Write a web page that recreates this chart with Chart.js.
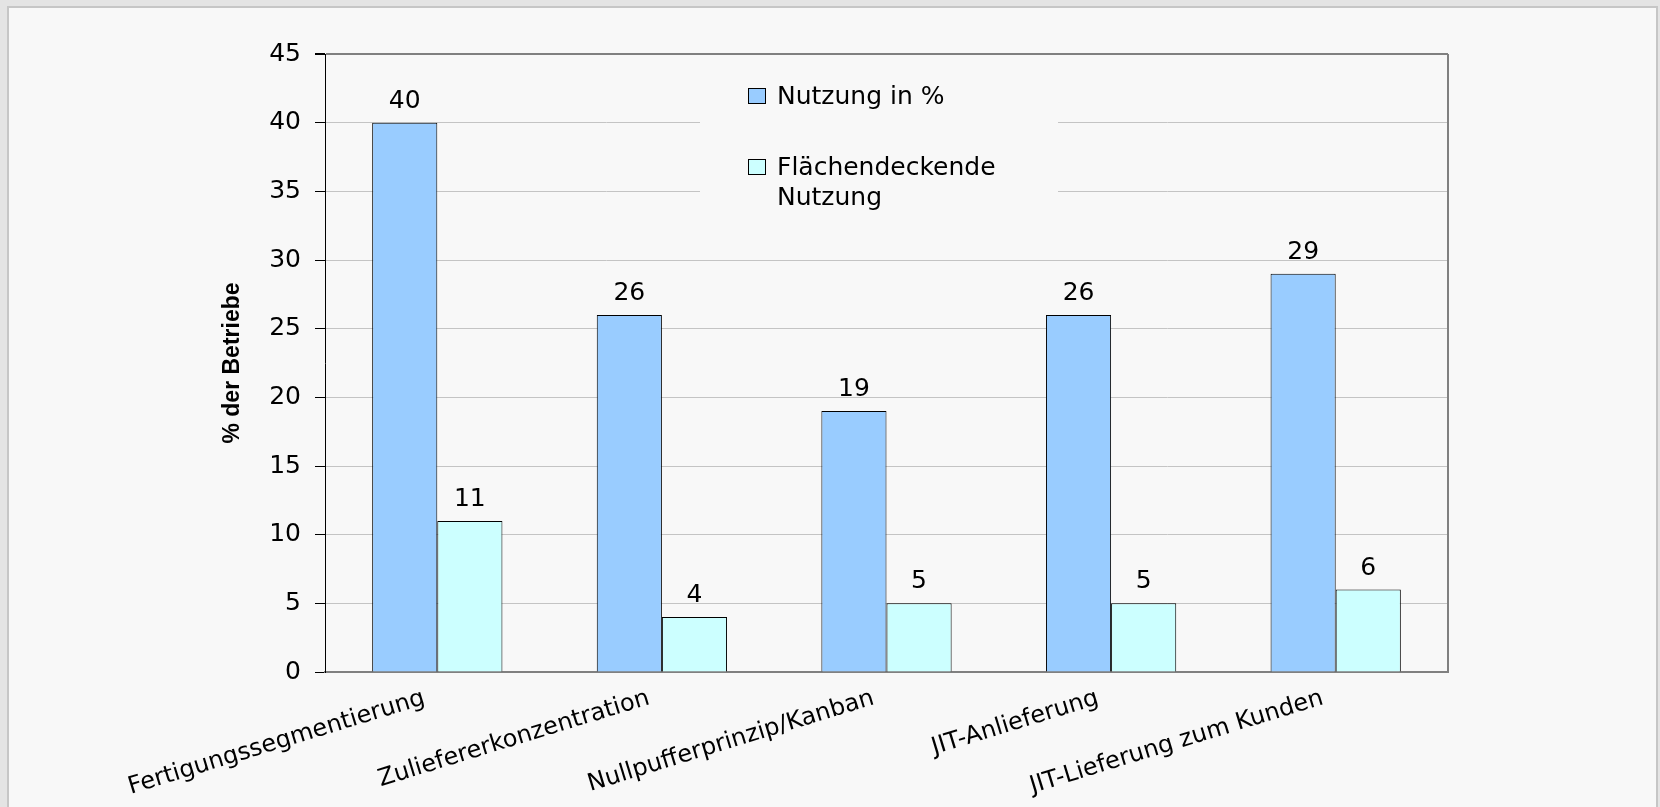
<!DOCTYPE html>
<html>
<head>
<meta charset="utf-8">
<script src="https://cdn.jsdelivr.net/npm/chart.js@4/dist/chart.umd.min.js"></script>
<style>
  html, body { margin: 0; padding: 0; background: #e4e4e4; }
  #wrap { position: relative; width: 1660px; height: 807px; }
</style>
</head>
<body>
<div id="wrap"><canvas id="chart" width="1660" height="807"></canvas></div>
<script>
const categories = ['Fertigungssegmentierung', 'Zuliefererkonzentration', 'Nullpufferprinzip/Kanban', 'JIT-Anlieferung', 'JIT-Lieferung zum Kunden'];
const nutzung = [40, 26, 19, 26, 29];
const flaechendeckend = [11, 4, 5, 5, 6];
const seriesLabels = ['Nutzung in %', 'Flächendeckende Nutzung'];
const seriesColors = ['#99ccff', '#ccffff'];
const yMin = 0;
const yMax = 45;
const yStep = 5;

const FONT = 'DejaVu Sans';

// grey panel behind everything
const panelBg = {
  id: 'panelBg',
  beforeDraw(chart) {
    const { ctx, width, height } = chart;
    ctx.save();
    ctx.fillStyle = '#e4e4e4';
    ctx.fillRect(0, 0, width, height);
    ctx.fillStyle = '#f8f8f8';
    ctx.fillRect(8, 7, 1649, height);
    ctx.strokeStyle = '#c6c6c6';
    ctx.lineWidth = 2;
    ctx.strokeRect(8, 7, 1649, height + 10);
    ctx.restore();
  },
};

// right edge of the plot frame
const plotFrame = {
  id: 'plotFrame',
  beforeDatasetsDraw(chart) {
    const { ctx, chartArea: a } = chart;
    ctx.save();
    ctx.strokeStyle = '#808080';
    ctx.lineWidth = 2;
    ctx.beginPath();
    ctx.moveTo(a.right, a.top);
    ctx.lineTo(a.right, a.bottom);
    ctx.stroke();
    ctx.restore();
  },
};

const valueLabels = {
  id: 'valueLabels',
  afterDatasetsDraw(chart) {
    const { ctx } = chart;
    ctx.save();
    ctx.fillStyle = '#000';
    ctx.font = `25px "${FONT}"`;
    ctx.textAlign = 'center';
    ctx.textBaseline = 'alphabetic';
    chart.data.datasets.forEach((ds, i) => {
      chart.getDatasetMeta(i).data.forEach((bar, j) => {
        ctx.fillText(String(ds.data[j]), bar.x, bar.y - 15);
      });
    });
    ctx.restore();
  },
};

// legend box sits inside the plot, over the gridlines
const boxLegend = {
  id: 'boxLegend',
  afterDatasetsDraw(chart) {
    const { ctx } = chart;
    ctx.save();
    ctx.fillStyle = '#f8f8f8';
    ctx.fillRect(700, 62, 358, 176);
    ctx.font = `25px "${FONT}"`;
    ctx.textBaseline = 'alphabetic';
    const rows = [104, 175];
    chart.data.datasets.forEach((ds, i) => {
      const base = rows[i];
      ctx.fillStyle = ds.backgroundColor;
      ctx.fillRect(748.5, base - 15.5, 17, 15);
      ctx.strokeStyle = '#000';
      ctx.lineWidth = 1;
      ctx.strokeRect(748.5, base - 15.5, 17, 15);
      // wrap words
      const words = ds.label.split(' ');
      const lines = [];
      let cur = '';
      words.forEach((w) => {
        const t = cur ? cur + ' ' + w : w;
        if (cur && ctx.measureText(t).width > 260) { lines.push(cur); cur = w; } else { cur = t; }
      });
      lines.push(cur);
      ctx.fillStyle = '#000';
      lines.forEach((l, k) => ctx.fillText(l, 777, base + k * 30));
    });
    ctx.restore();
  },
};

new Chart(document.getElementById('chart'), {
  type: 'bar',
  data: {
    labels: categories,
    datasets: [
      { label: seriesLabels[0], data: nutzung, backgroundColor: seriesColors[0] },
      { label: seriesLabels[1], data: flaechendeckend, backgroundColor: seriesColors[1] },
    ].map((d) => ({
      ...d,
      borderColor: '#000',
      borderWidth: 1,
      categoryPercentage: 0.58,
      barPercentage: 1,
    })),
  },
  options: {
    responsive: false,
    animation: false,
    devicePixelRatio: 1,
    layout: { padding: { left: 205, top: 54, right: 212, bottom: 0 } },
    plugins: {
      legend: { display: false },
      tooltip: { enabled: false },
    },
    scales: {
      x: {
        grid: { display: false },
        border: { color: '#808080', width: 2 },
        ticks: {
          color: '#000',
          font: { family: FONT, size: 24 },
          minRotation: 17,
          maxRotation: 17,
          autoSkip: false,
          padding: 4,
          labelOffset: -13,
        },
        afterFit: (s) => { s.height = 135; },
      },
      y: {
        min: yMin,
        max: yMax,
        ticks: {
          stepSize: yStep,
          color: '#000',
          font: { family: FONT, size: 25 },
          padding: 14,
        },
        grid: {
          color: (c) => (c.tick && (c.tick.value === yMax || c.tick.value === yMin) ? '#808080' : '#c4c4c4'),
          lineWidth: (c) => (c.tick && c.tick.value === yMax ? 2 : 1),
          tickColor: '#000',
          tickLength: 10,
        },
        border: { color: '#000', width: 1 },
        title: {
          display: true,
          text: '% der Betriebe',
          color: '#000',
          font: { family: 'Liberation Sans', size: 23, weight: 'bold' },
          padding: { top: 14, bottom: 0 },
        },
        afterFit: (s) => { s.width = 120; },
      },
    },
  },
  plugins: [panelBg, plotFrame, valueLabels, boxLegend],
});
</script>
</body>
</html>
